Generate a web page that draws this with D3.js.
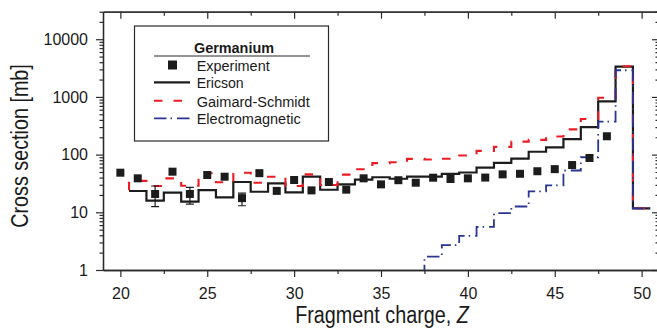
<!DOCTYPE html>
<html>
<head>
<meta charset="utf-8">
<script src="https://cdn.jsdelivr.net/npm/d3@7"></script>
<style>
  body { margin: 0; background: #fff; }
  svg { display: block; }
  text { font-family: "Liberation Sans", Arial, Helvetica, sans-serif; fill: #1a1a1a; }
</style>
</head>
<body>
<svg id="chart" width="657" height="333"></svg>
<script>
// Measured cross sections (mb) vs fragment charge Z
const expZ   = [20,21,22,23,24,25,26,27,28,29,30,31,32,33,34,35,36,37,38,39,40,41,42,43,44,45,46,47,48];
const expVal = [48.6,38.8,20.8,50.6,20.8,44.3,41.4,17.6,47.7,23.5,36.3,24.0,33.5,24.7,38.8,30.5,36.0,32.6,39.8,37.8,38.8,40.0,45.5,46.5,51.5,56.0,66.0,87.5,208];

// Error bars shown for a few points
const errZ    = [22, 24, 27];
const errLow  = [12.5, 13.9, 13.0];
const errHigh = [28.6, 27.1, 21.5];

// Model predictions, one value per charge bin
const theoryZ  = [21,22,23,24,25,26,27,28,29,30,31,32,33,34,35,36,37,38,39,40,41,42,43,44,45,46,47,48,49,50];
const ericson  = [23.4,15.9,21.9,15.3,24.3,18.2,33.5,22.7,31.8,22.2,41.4,24.6,30.5,37.0,40.5,38.2,41.4,41.4,46.5,49.0,59.5,72.0,85.0,112,134,185,300,840,3340,11.7];
const gaimard  = [35.0,28.6,38.8,28.9,47.4,33.1,48.6,32.6,41.4,28.6,45.5,29.7,45.0,55.6,71.3,73.6,84.2,82.5,85.0,96.5,116,136,168,180,206,274,414,969,3400,11.7];
const gaimardLeadIn = 24;

const emZ   = [37,38,39,40,41,42,43,44,45,46,47,48,49,50];
const emVal = [0.6,1.7,2.7,3.9,5.6,9.7,12.6,23.0,29.3,53,90,372,2900,11.7];

// Axis ticks and labels
const xMajor = [20,25,30,35,40,45,50];
const xMinor = [22.5,27.5,32.5,37.5,42.5,47.5];
const yMajor = [1,10,100,1000,10000];
const yMinor = [2,3,4,5,6,7,8,9,20,30,40,50,60,70,80,90,200,300,400,500,600,700,800,900,
                2000,3000,4000,5000,6000,7000,8000,9000,20000,30000];

const legendTitle = "Germanium";
const seriesNames = ["Experiment", "Ericson", "Gaimard-Schmidt", "Electromagnetic"];
const xTitle = "Fragment charge, ";
const xTitleVar = "Z";
const yTitle = "Cross section [mb]";

const svg = d3.select("#chart");
const L = 103, R = 659, T = 11.7, B = 270;
const x = d3.scaleLinear().domain([19, 51]).range([L, R]);
const y = d3.scaleLog().domain([1, 30000]).range([B, T]);

const AX = "#2a2a2a";

svg.append("defs").append("clipPath").attr("id", "plotClip")
  .append("rect").attr("x", L).attr("y", T).attr("width", R - L).attr("height", B - T);

function styleAxis(g) {
  g.selectAll("path.domain").attr("stroke", AX).attr("stroke-width", 1.3);
  g.selectAll(".tick line").attr("stroke", AX).attr("stroke-width", 1.2);
}

// bottom axis with labels
const gxB = svg.append("g").attr("transform", `translate(0,${B})`)
  .call(d3.axisBottom(x).tickValues(xMajor).tickSize(7).tickSizeOuter(0).tickPadding(11).tickFormat(d3.format("d")));
styleAxis(gxB);
gxB.selectAll("text").attr("font-size", 16).attr("font-family", null).attr("fill", "#1a1a1a");
const gxBm = svg.append("g").attr("transform", `translate(0,${B})`)
  .call(d3.axisBottom(x).tickValues(xMinor).tickSize(4).tickSizeOuter(0).tickFormat(""));
styleAxis(gxBm);

// top frame with inward ticks
const gxT = svg.append("g").attr("transform", `translate(0,${T})`)
  .call(d3.axisBottom(x).tickValues(xMajor).tickSize(7).tickSizeOuter(0).tickFormat(""));
styleAxis(gxT);
const gxTm = svg.append("g").attr("transform", `translate(0,${T})`)
  .call(d3.axisBottom(x).tickValues(xMinor).tickSize(4).tickSizeOuter(0).tickFormat(""));
styleAxis(gxTm);

// left axis with labels
const gyL = svg.append("g").attr("transform", `translate(${L},0)`)
  .call(d3.axisLeft(y).tickValues(yMajor).tickSize(7).tickSizeOuter(0).tickPadding(8).tickFormat(d3.format("d")));
styleAxis(gyL);
gyL.selectAll("text").attr("font-size", 16).attr("font-family", null).attr("fill", "#1a1a1a");
const gyLm = svg.append("g").attr("transform", `translate(${L},0)`)
  .call(d3.axisLeft(y).tickValues(yMinor).tickSize(3.5).tickSizeOuter(0).tickFormat(""));
styleAxis(gyLm);

// right frame with inward ticks
const gyR = svg.append("g").attr("transform", `translate(${R},0)`)
  .call(d3.axisLeft(y).tickValues(yMajor).tickSize(7).tickSizeOuter(0).tickFormat(""));
styleAxis(gyR);
const gyRm = svg.append("g").attr("transform", `translate(${R},0)`)
  .call(d3.axisLeft(y).tickValues(yMinor).tickSize(3.5).tickSizeOuter(0).tickFormat(""));
styleAxis(gyRm);

// axis titles (slightly condensed face)
svg.append("text")
  .attr("transform", `translate(28,146) rotate(-90) scale(0.86,1)`)
  .attr("text-anchor", "middle")
  .attr("font-size", 23)
  .text(yTitle);

const xt = svg.append("text")
  .attr("transform", `translate(382,323) scale(0.86,1)`)
  .attr("text-anchor", "middle")
  .attr("font-size", 23);
xt.append("tspan").text(xTitle);
xt.append("tspan").attr("font-style", "italic").text(xTitleVar);

// histogram-style step path centred on integer charges
function stepPath(zs, vs, leadIn) {
  const p = d3.path();
  const x0 = x(zs[0] - 0.5);
  if (leadIn != null) { p.moveTo(x0, y(leadIn)); p.lineTo(x0, y(vs[0])); }
  else p.moveTo(x0, y(vs[0]));
  for (let i = 0; i < zs.length; i++) {
    const xe = x(zs[i] + 0.5);
    p.lineTo(xe, y(vs[i]));
    if (i + 1 < zs.length) p.lineTo(xe, y(vs[i + 1]));
  }
  return p.toString();
}

const plot = svg.append("g").attr("clip-path", "url(#plotClip)");

plot.append("path").attr("d", stepPath(theoryZ, ericson))
  .attr("fill", "none").attr("stroke", "#1c1c1c").attr("stroke-width", 2.2)
  .attr("stroke-linejoin", "miter");

plot.append("path").attr("d", stepPath(theoryZ, gaimard, gaimardLeadIn))
  .attr("fill", "none").attr("stroke", "#ec1c24").attr("stroke-width", 2.1)
  .attr("stroke-dasharray", "8.5,11");

plot.append("path").attr("d", stepPath(emZ, emVal))
  .attr("fill", "none").attr("stroke", "#283593").attr("stroke-width", 1.8)
  .attr("stroke-dasharray", "12.5,4,1.5,5");

// error bars
const eb = plot.append("g").attr("stroke", "#1c1c1c").attr("stroke-width", 1.2);
errZ.forEach((z, i) => {
  const cx = x(z);
  eb.append("line").attr("x1", cx).attr("x2", cx).attr("y1", y(errLow[i])).attr("y2", y(errHigh[i]));
  eb.append("line").attr("x1", cx - 4).attr("x2", cx + 4).attr("y1", y(errLow[i])).attr("y2", y(errLow[i]));
  eb.append("line").attr("x1", cx - 4).attr("x2", cx + 4).attr("y1", y(errHigh[i])).attr("y2", y(errHigh[i]));
});

// experimental points
const S = 8;
plot.append("g").selectAll("rect").data(expZ).join("rect")
  .attr("x", d => x(d) - S / 2)
  .attr("y", (d, i) => y(expVal[i]) - S / 2)
  .attr("width", S).attr("height", S)
  .attr("fill", "#1c1c1c");

// legend
const lg = svg.append("g");
lg.append("rect").attr("x", 134.5).attr("y", 26).attr("width", 194).attr("height", 115)
  .attr("fill", "#fff").attr("stroke", AX).attr("stroke-width", 1.2);
lg.append("text").attr("x", 194).attr("y", 52.7).attr("font-size", 15.5).attr("font-weight", "bold")
  .attr("textLength", 80).attr("lengthAdjust", "spacingAndGlyphs").text(legendTitle);
lg.append("line").attr("x1", 154).attr("x2", 310).attr("y1", 56).attr("y2", 56)
  .attr("stroke", AX).attr("stroke-width", 1.2);

const legRows = [
  { base: 70.5, mid: 65,    len: 73 },
  { base: 88.3, mid: 82.3,  len: 47 },
  { base: 106.5, mid: 100.7, len: 113 },
  { base: 124.3, mid: 118.3, len: 104 }
];
legRows.forEach((r, i) => {
  lg.append("text").attr("x", 196.7).attr("y", r.base).attr("font-size", 15.5)
    .attr("textLength", r.len).attr("lengthAdjust", "spacingAndGlyphs").text(seriesNames[i]);
});
lg.append("rect").attr("x", 172.5 - 4.5).attr("y", legRows[0].mid - 4.5).attr("width", 9).attr("height", 9)
  .attr("fill", "#1c1c1c");
lg.append("line").attr("x1", 154).attr("x2", 190).attr("y1", legRows[1].mid).attr("y2", legRows[1].mid)
  .attr("stroke", "#1c1c1c").attr("stroke-width", 2.2);
lg.append("line").attr("x1", 154).attr("x2", 190).attr("y1", legRows[2].mid).attr("y2", legRows[2].mid)
  .attr("stroke", "#ec1c24").attr("stroke-width", 2.1).attr("stroke-dasharray", "8.5,11");
lg.append("line").attr("x1", 154).attr("x2", 190).attr("y1", legRows[3].mid).attr("y2", legRows[3].mid)
  .attr("stroke", "#283593").attr("stroke-width", 1.8).attr("stroke-dasharray", "12.5,4,1.5,5");
</script>
</body>
</html>
